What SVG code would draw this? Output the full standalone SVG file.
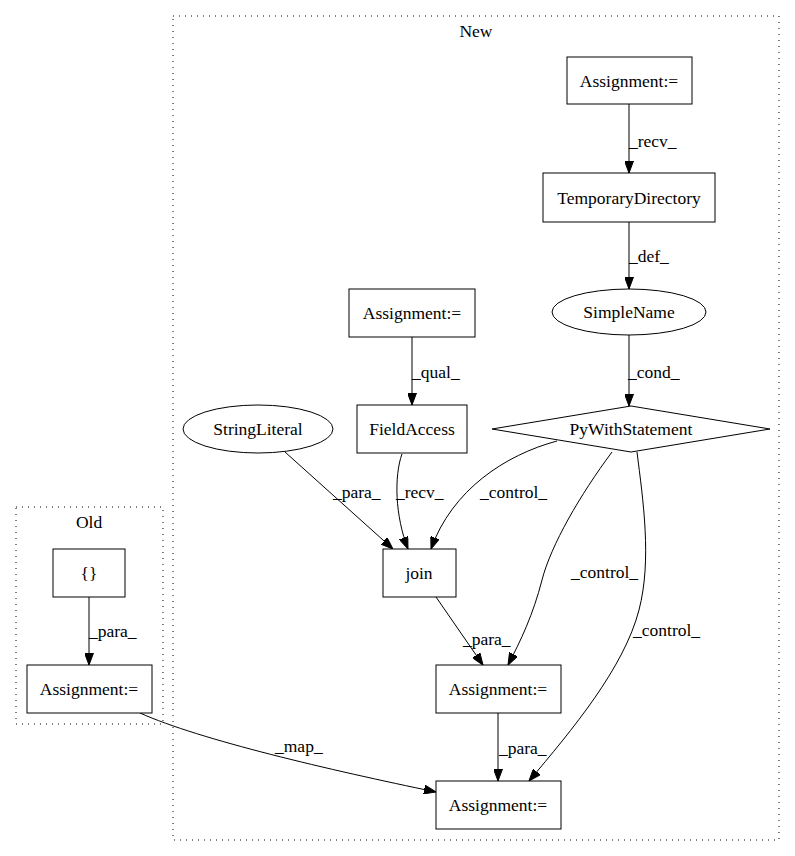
<svg xmlns="http://www.w3.org/2000/svg" width="795" height="856" viewBox="0 0 795 856">
<defs>
<marker id="arr" viewBox="0 0 12 9" refX="12" refY="4.5" markerWidth="12" markerHeight="9" markerUnits="userSpaceOnUse" orient="auto">
<path d="M0,0 L12,4.5 L0,9 z" fill="#000" stroke="#000" stroke-width="1"/>
</marker>
</defs>
<style>
text{font-family:"Liberation Serif","Times New Roman",serif;font-size:17.5px;fill:#000}
.c{text-anchor:middle}
.node{fill:#fff;stroke:#000;stroke-width:1}
.cl{fill:none;stroke:#000;stroke-width:1;stroke-dasharray:1,5}
.e{fill:none;stroke:#000;stroke-width:1;marker-end:url(#arr)}
</style>
<rect width="795" height="856" fill="#fff"/>
<g id="cluster_new">
<rect class="cl" x="173" y="16" width="606" height="824"/>
<text class="c" x="476" y="37">New</text>
</g>
<g id="cluster_old">
<rect class="cl" x="16" y="507" width="147" height="217"/>
<text class="c" x="89" y="528">Old</text>
</g>
<g id="edges">
<path class="e" d="M629,104 L629,173"/>
<text x="629" y="147">_recv_</text>
<path class="e" d="M629,222 L629,289"/>
<text x="629" y="262">_def_</text>
<path class="e" d="M629,335 L629,406"/>
<text x="628" y="378">_cond_</text>
<path class="e" d="M412,337 L412,405"/>
<text x="412" y="378">_qual_</text>
<path class="e" d="M285,452 L393,549"/>
<text x="333" y="498">_para_</text>
<path class="e" d="M402,454 C394,476 395,516 408,549"/>
<text x="396" y="498">_recv_</text>
<path class="e" d="M557,441 C505,455 452,490 431,549"/>
<text x="480" y="498">_control_</text>
<path class="e" d="M612,452 C580,495 551,545 542,580 C533,615 521,640 508,665"/>
<text x="571" y="578">_control_</text>
<path class="e" d="M637,452 C643,500 652,560 639,610 C624,668 572,730 529,781"/>
<text x="633" y="636">_control_</text>
<path class="e" d="M436,597 L483,665"/>
<text x="463" y="645">_para_</text>
<path class="e" d="M498,713 L498,781"/>
<text x="499" y="754">_para_</text>
<path class="e" d="M89,597 L89,665"/>
<text x="89" y="637">_para_</text>
<path class="e" d="M140,713 C200,740 330,770 436,792"/>
<text x="275" y="752">_map_</text>
</g>
<g id="n_assign_top">
<rect class="node" x="567" y="57" width="125" height="47"/>
<text class="c" x="629" y="86.5">Assignment:=</text>
</g>
<g id="n_tempdir">
<rect class="node" x="543" y="173" width="172" height="49"/>
<text class="c" x="629" y="203.5">TemporaryDirectory</text>
</g>
<g id="n_simplename">
<ellipse class="node" cx="629" cy="312" rx="77" ry="23"/>
<text class="c" x="629" y="318">SimpleName</text>
</g>
<g id="n_assign_qual">
<rect class="node" x="349" y="289" width="126" height="48"/>
<text class="c" x="412" y="319">Assignment:=</text>
</g>
<g id="n_fieldaccess">
<rect class="node" x="357" y="405" width="110" height="48"/>
<text class="c" x="412" y="435">FieldAccess</text>
</g>
<g id="n_pywith">
<polygon class="node" points="631,406 770,429 631,452 492,429"/>
<text class="c" x="631" y="435">PyWithStatement</text>
</g>
<g id="n_stringliteral">
<ellipse class="node" cx="258" cy="429" rx="75" ry="24"/>
<text class="c" x="258" y="435">StringLiteral</text>
</g>
<g id="n_join">
<rect class="node" x="383" y="549" width="73" height="48"/>
<text class="c" x="419" y="579">join</text>
</g>
<g id="n_assign_mid">
<rect class="node" x="436" y="665" width="125" height="48"/>
<text class="c" x="498" y="695">Assignment:=</text>
</g>
<g id="n_assign_bot">
<rect class="node" x="436" y="781" width="125" height="48"/>
<text class="c" x="498" y="811">Assignment:=</text>
</g>
<g id="n_old_braces">
<rect class="node" x="53" y="549" width="72" height="48"/>
<text class="c" x="89" y="579">{}</text>
</g>
<g id="n_old_assign">
<rect class="node" x="27" y="665" width="125" height="48"/>
<text class="c" x="89" y="695">Assignment:=</text>
</g>
</svg>
